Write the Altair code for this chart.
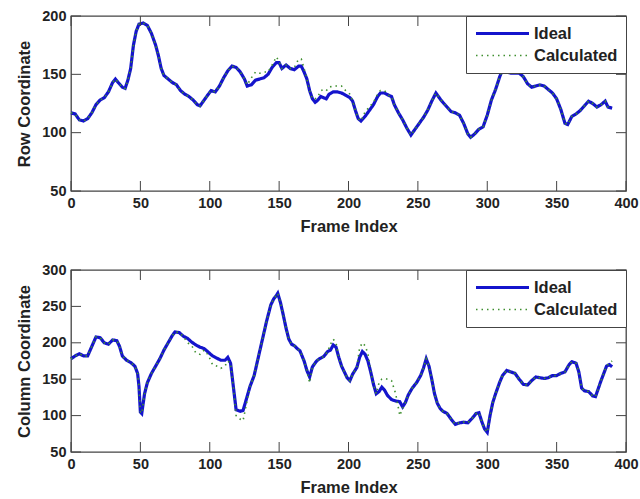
import altair as alt
import pandas as pd

# ---------------- data ----------------
row_frames = [0, 3, 6, 9, 12, 15, 18, 21, 24, 27, 30, 32, 34, 37, 39, 41, 43, 45, 47, 49,
              52, 55, 58, 61, 63, 65, 67, 70, 73, 76, 79, 82, 85, 88, 91, 93, 96, 99, 101, 104,
              107, 110, 113, 116, 119, 122, 125, 127, 130, 133, 136, 139, 142, 145, 148, 150, 152, 155, 158, 161,
              164, 166, 168, 170, 172, 174, 176, 178, 180, 182, 184, 186, 189, 192, 195, 198, 201, 203, 205, 207,
              209, 212, 215, 218, 221, 223, 226, 229, 231, 233, 236, 239, 242, 245, 248, 251, 254, 257, 260, 263,
              266, 268, 271, 274, 277, 280, 283, 286, 288, 291, 294, 297, 300, 303, 306, 309, 311, 314, 317, 320,
              323, 326, 329, 332, 335, 338, 341, 344, 347, 350, 353, 356, 358, 361, 364, 367, 370, 373, 376, 379,
              382, 385, 387, 390]
row_ideal = [117, 116, 111, 110, 112, 117, 124, 128, 130, 135, 143, 146, 143, 139, 138, 145, 155, 175, 187, 193,
             194, 192, 185, 175, 166, 155, 149, 146, 143, 141, 136, 133, 131, 128, 124, 123, 128, 133, 136, 135,
             140, 147, 153, 157, 156, 152, 146, 140, 141, 145, 146, 147, 150, 156, 160, 160, 155, 158, 155, 154,
             157, 157, 152, 146, 136, 129, 126, 128, 131, 130, 129, 133, 135, 135, 134, 132, 130, 127, 119, 112,
             110, 114, 119, 124, 131, 134, 134, 132, 131, 124, 117, 111, 104, 98, 103, 108, 113, 119, 127, 134,
             129, 126, 122, 118, 117, 115, 108, 99, 96, 99, 103, 105, 115, 128, 137, 148, 154, 152, 151, 151,
             151, 148, 142, 139, 140, 141, 140, 137, 134, 129, 120, 108, 107, 114, 116, 119, 123, 127, 125, 122,
             124, 127, 122, 121]
row_calc = [117, 116, 111, 110, 112, 117, 124, 128, 130, 135, 143, 146, 143, 139, 138, 145, 155, 175, 187, 193,
            194, 192, 185, 175, 166, 155, 149, 146, 143, 141, 136, 133, 131, 128, 124, 123, 128, 133, 136, 135,
            140, 147, 153, 157, 156, 152, 146, 141, 147, 152, 151, 152, 152, 158, 165, 161, 155, 158, 155, 156,
            163, 163, 155, 146, 136, 129, 129, 131, 136, 137, 136, 139, 140, 140, 140, 136, 133, 127, 119, 112,
            110, 118, 122, 126, 133, 136, 136, 132, 131, 124, 117, 111, 104, 98, 103, 108, 113, 119, 127, 134,
            129, 126, 122, 118, 117, 115, 108, 99, 96, 99, 103, 105, 115, 128, 137, 148, 154, 152, 151, 151,
            151, 148, 142, 139, 140, 141, 140, 137, 134, 129, 120, 108, 107, 114, 116, 119, 123, 127, 125, 122,
            124, 127, 122, 121]

col_frames = [0, 3, 6, 9, 12, 15, 18, 21, 24, 27, 30, 33, 35, 37, 40, 43, 46, 48, 49, 50,
              51, 53, 55, 58, 61, 64, 67, 70, 73, 75, 78, 81, 84, 87, 90, 93, 96, 99, 102, 105,
              108, 111, 113, 115, 117, 119, 122, 124, 126, 129, 132, 135, 138, 141, 144, 146, 148, 149, 151, 153,
              155, 157, 159, 161, 163, 165, 168, 170, 172, 174, 177, 179, 182, 185, 187, 189, 191, 193, 195, 197,
              199, 201, 203, 206, 208, 210, 212, 214, 216, 218, 220, 222, 224, 226, 228, 231, 234, 237, 239, 241,
              243, 246, 249, 252, 254, 256, 258, 260, 262, 264, 266, 268, 271, 274, 277, 280, 283, 286, 289, 292,
              294, 296, 298, 300, 302, 304, 306, 309, 311, 314, 317, 320, 323, 326, 329, 332, 335, 338, 341, 344,
              347, 350, 353, 356, 359, 361, 364, 366, 368, 370, 373, 376, 378, 380, 382, 384, 386, 388, 390]
col_ideal = [178, 182, 185, 182, 182, 195, 208, 207, 200, 198, 204, 203, 195, 182, 176, 173, 168, 158, 140, 105,
             103, 130, 145, 158, 168, 178, 190, 200, 210, 215, 214, 209, 206, 201, 197, 194, 192, 187, 182, 179,
             176, 176, 180, 172, 140, 108, 106, 107, 120, 140, 155, 180, 205, 230, 252, 260, 265, 268, 255, 238,
             220, 205, 198, 196, 192, 189, 175, 162, 153, 167, 175, 178, 181, 188, 190, 197, 194, 180, 168, 160,
             152, 148, 157, 166, 180, 188, 184, 175, 160, 143, 130, 133, 139, 135, 128, 122, 120, 119, 112, 118,
             128, 138, 145, 155, 165, 178, 168, 150, 130, 117, 110, 106, 103, 95, 88, 90, 91, 90, 96, 103,
             104, 92, 82, 77, 100, 118, 130, 146, 155, 162, 160, 158, 150, 143, 142, 148, 153, 152, 151, 152,
             155, 155, 158, 160, 170, 174, 172, 160, 138, 134, 133, 127, 126, 137, 148, 158, 168, 170, 167]
col_calc = [178, 182, 185, 182, 182, 195, 208, 207, 200, 198, 204, 203, 195, 182, 176, 173, 168, 158, 140, 105,
            103, 130, 145, 158, 168, 178, 190, 200, 210, 215, 214, 209, 200, 196, 186, 184, 190, 183, 170, 168,
            165, 168, 175, 172, 140, 100, 95, 93, 112, 140, 155, 180, 205, 230, 252, 260, 265, 268, 255, 238,
            220, 205, 198, 196, 192, 189, 175, 162, 145, 167, 175, 178, 181, 188, 198, 205, 200, 180, 168, 160,
            152, 148, 157, 166, 193, 200, 196, 185, 160, 143, 130, 145, 150, 151, 150, 148, 130, 100, 110, 118,
            128, 138, 145, 155, 165, 178, 168, 150, 130, 117, 110, 106, 103, 95, 88, 90, 91, 90, 96, 103,
            104, 92, 82, 77, 100, 118, 130, 146, 155, 162, 160, 158, 150, 143, 142, 148, 153, 152, 151, 152,
            155, 155, 158, 160, 170, 174, 172, 160, 138, 134, 133, 127, 126, 137, 148, 158, 168, 172, 175]

x_ticks = [0, 50, 100, 150, 200, 250, 300, 350, 400]
row_ticks = [50, 100, 150, 200]
col_ticks = [50, 100, 150, 200, 250, 300]

series_names = ["Ideal", "Calculated"]
FONT = "Liberation Sans"
W = 555


def panel(frames, ideal, calc, yticks, ytitle, H):
    df = pd.concat([
        pd.DataFrame({"frame": frames, "value": ideal, "series": "Ideal"}),
        pd.DataFrame({"frame": frames, "value": calc, "series": "Calculated"}),
    ])
    xscale = alt.Scale(domain=[0, 400], nice=False)
    yscale = alt.Scale(domain=[yticks[0], yticks[-1]], nice=False)
    xaxis = alt.Axis(values=x_ticks, title="Frame Index", labelFlush=False, labelOverlap=False)
    yaxis = alt.Axis(values=yticks, title=ytitle, labelOverlap=False)
    color = alt.Color("series:N", scale=alt.Scale(domain=series_names, range=["#1414cc", "#3f8f2f"]),
                      legend=alt.Legend(title=None))
    dash = alt.StrokeDash("series:N", scale=alt.Scale(domain=series_names, range=[[1, 0], [1.5, 4]]),
                          legend=alt.Legend(title=None))
    sw = alt.StrokeWidth("series:N", scale=alt.Scale(domain=series_names, range=[3.2, 1.6]),
                         legend=alt.Legend(title=None))
    lines = alt.Chart(df).mark_line().encode(
        x=alt.X("frame:Q", scale=xscale, axis=xaxis),
        y=alt.Y("value:Q", scale=yscale, axis=yaxis),
        color=color, strokeDash=dash, strokeWidth=sw,
        order=alt.Order("frame:Q"),
    )
    xt = pd.DataFrame({"frame": x_ticks})
    yt = pd.DataFrame({"value": yticks})
    tcol = "#444444"
    xb = alt.Chart(xt).mark_rule(color=tcol, strokeWidth=1).encode(
        x=alt.X("frame:Q", axis=xaxis), y=alt.value(H), y2=alt.value(H - 10))
    xtop = alt.Chart(xt).mark_rule(color=tcol, strokeWidth=1).encode(
        x=alt.X("frame:Q", axis=xaxis), y=alt.value(0), y2=alt.value(10))
    yl = alt.Chart(yt).mark_rule(color=tcol, strokeWidth=1).encode(
        y=alt.Y("value:Q", axis=yaxis), x=alt.value(0), x2=alt.value(10))
    yr = alt.Chart(yt).mark_rule(color=tcol, strokeWidth=1).encode(
        y=alt.Y("value:Q", axis=yaxis), x=alt.value(W), x2=alt.value(W - 10))
    return alt.layer(lines, xb, xtop, yl, yr).properties(width=W, height=H)


top = panel(row_frames, row_ideal, row_calc, row_ticks, "Row Coordinate", 175)
bottom = panel(col_frames, col_ideal, col_calc, col_ticks, "Column Coordinate", 182)

chart = alt.vconcat(top, bottom, spacing=25).resolve_scale(
    color="independent", strokeDash="independent", strokeWidth="independent"
).properties(
    padding={"left": 16, "top": 7, "right": 0, "bottom": 2},
    background="white",
).configure_view(
    stroke="#444444", strokeWidth=1.3
).configure_axis(
    grid=False, domain=False, ticks=False, labelOverlap=False,
    labelFont=FONT, labelFontWeight="bold", labelFontSize=14.5, labelColor="#222222", labelPadding=5,
    titleFont=FONT, titleFontWeight="bold", titleFontSize=16.5, titleColor="#222222", titlePadding=9,
).configure_legend(
    orient="top-right", offset=0, strokeColor="#444444", fillColor="white",
    padding=8, symbolType="stroke", symbolSize=2809, symbolStrokeWidth=2.8,
    labelFont=FONT, labelFontWeight="bold", labelFontSize=16.5, labelColor="#222222",
    labelOffset=3, clipHeight=19, rowPadding=3, cornerRadius=0,
)

chart.save("out.html", embed_options={"renderer": "svg", "actions": False})
